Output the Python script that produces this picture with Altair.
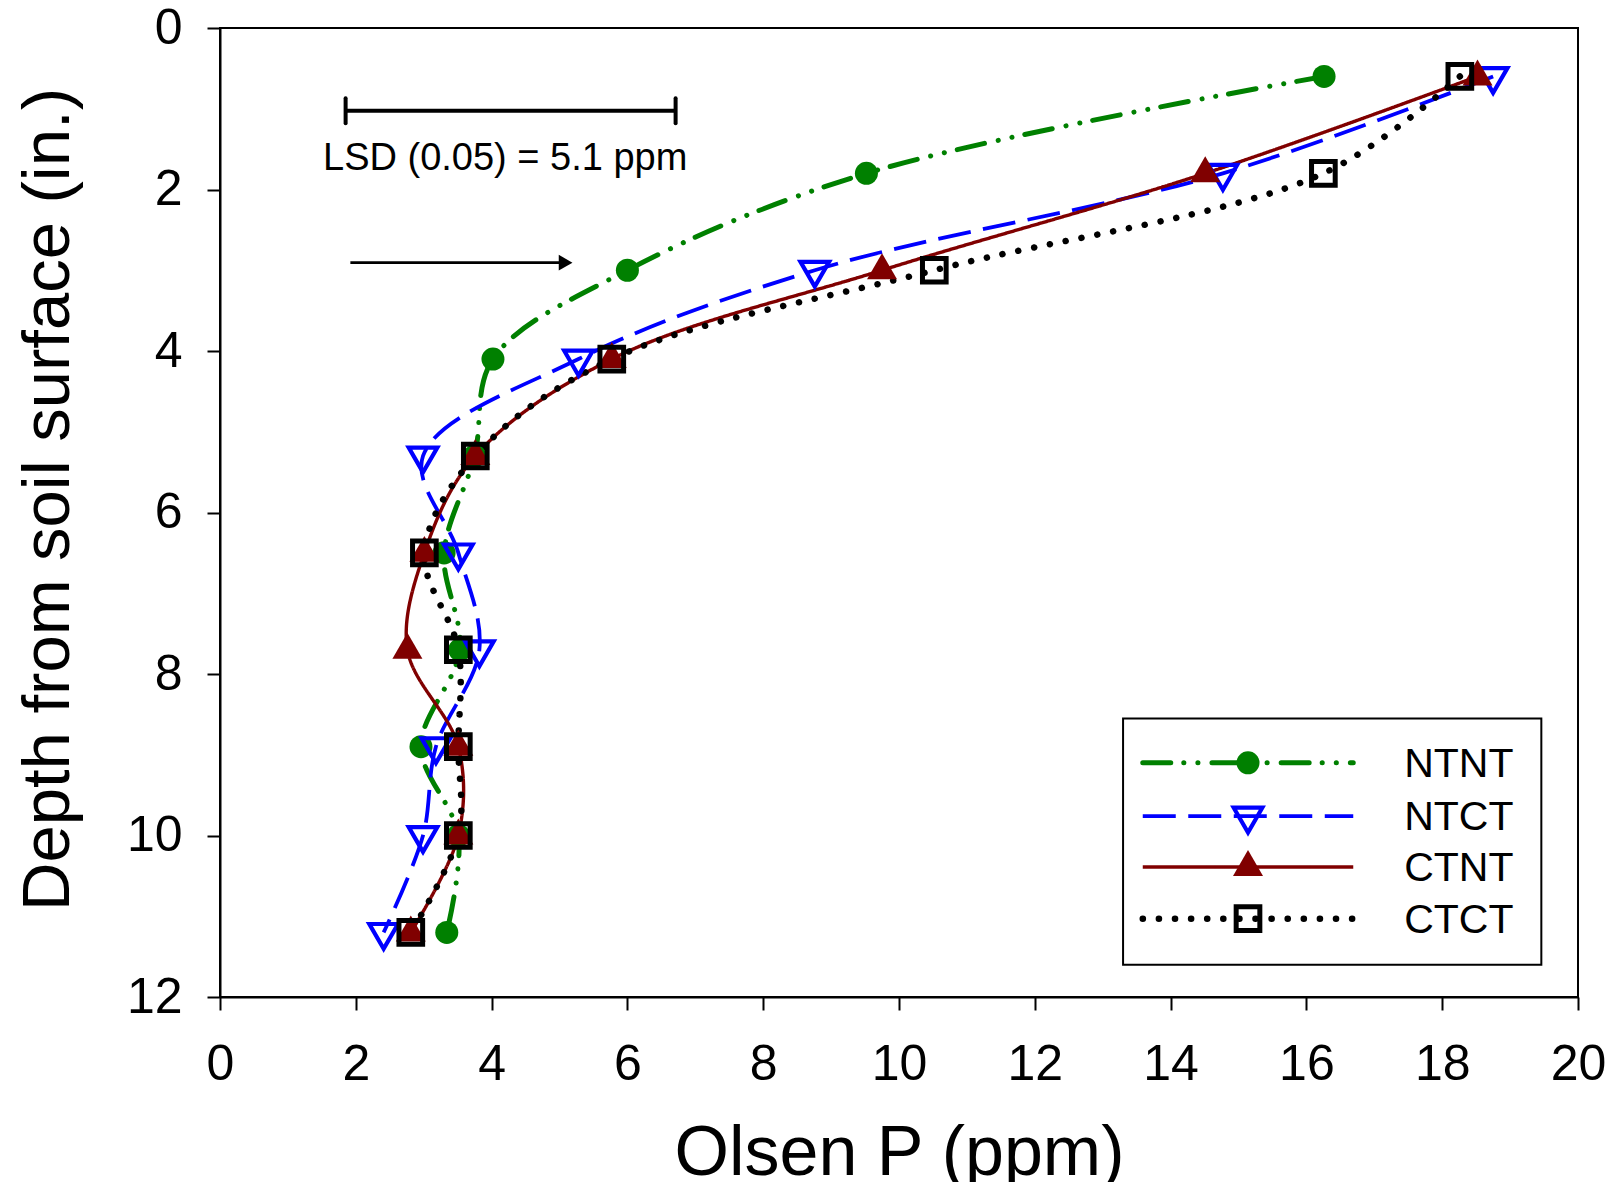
import altair as alt
import pandas as pd

# ---------------- data ----------------
depth = [0.6, 1.8, 3.0, 4.1, 5.3, 6.5, 7.7, 8.9, 10.0, 11.2]
ntnt = [16.26, 9.52, 6.00, 4.02, 3.75, 3.30, 3.53, 2.96, 3.51, 3.34]
ntct = [18.75, 14.77, 8.76, 5.28, 2.99, 3.51, 3.82, 3.18, 2.99, 2.41]
ctnt = [18.52, 14.51, 9.75, 5.77, 3.76, 3.01, 2.76, 3.51, 3.51, 2.81]
ctct = [18.26, 16.25, 10.52, 5.77, 3.76, 3.01, 3.51, 3.51, 3.51, 2.81]
series_names = ["NTNT", "NTCT", "CTNT", "CTCT"]
series_values = [ntnt, ntct, ctnt, ctct]

x_ticks = list(range(0, 21, 2))
y_ticks = list(range(0, 13, 2))

lsd_label = "LSD (0.05) = 5.1 ppm"
lsd_ends = [1.85, 6.71]
lsd_depth = 1.024
lsd_cap = 0.155
lsd_text_pos = (4.20, 1.60)
arrow_ends = [1.92, 5.0]
arrow_depth = 2.906
arrow_head = 5.09

legend_box = (13.30, 19.46, 8.55, 11.60)
legend_rows = [9.10, 9.76, 10.39, 11.03]
legend_line = (13.59, 16.69)
legend_marker = 15.14
legend_text = 17.44

FONT = "Liberation Sans"

styles = {
    "NTNT": dict(color="#008000", width=5, dash=[28, 13, 0.1, 14, 0.1, 14], cap="round",
                 shape="circle", filled=True, size=530, sw=1, yoff=0),
    "NTCT": dict(color="#0000FF", width=3.8, dash=[33, 12.5], cap="butt",
                 shape="triangle-down", filled=False, size=820, sw=4.2, yoff=4),
    "CTNT": dict(color="#800000", width=3.4, dash=[1, 0], cap="butt",
                 shape="triangle-up", filled=True, size=900, sw=1, yoff=-4),
    "CTCT": dict(color="#000000", width=6.5, dash=[0.1, 16], cap="round",
                 shape="square", filled=False, size=560, sw=5, yoff=0),
}

rows = []
for name, vals in zip(series_names, series_values):
    for d, v in zip(depth, vals):
        rows.append({"series": name, "depth": d, "p": v})
df = pd.DataFrame(rows)

xscale = alt.Scale(domain=[0, 20], nice=False, zero=False)
yscale = alt.Scale(domain=[0, 12], nice=False, zero=False, reverse=True)
xaxis = alt.Axis(values=x_ticks, title="Olsen P (ppm)", labelFlush=False, labelOverlap=False,
                 labelPadding=29, titleY=156, titleBaseline="middle", titleFontSize=70)
yaxis = alt.Axis(values=y_ticks, title="Depth from soil surface (in.)", labelOverlap=False,
                 labelPadding=25, titleX=-172, titleY=471, titleBaseline="middle", titleAngle=-90,
                 titleFontSize=67)


def X(field):
    return alt.X(field, type="quantitative", scale=xscale, axis=xaxis)


def Y(field):
    return alt.Y(field, type="quantitative", scale=yscale, axis=yaxis)


layers = []
for name in series_names:
    s = styles[name]
    sub = df[df.series == name]
    line = alt.Chart(sub).mark_line(
        color=s["color"], strokeWidth=s["width"], strokeDash=s["dash"], strokeCap=s["cap"],
        interpolate="catmull-rom"
    ).encode(x=X("p"), y=Y("depth"), order=alt.Order("depth:Q"))
    layers.append(line)
for name in series_names:
    s = styles[name]
    sub = df[df.series == name]
    pts = alt.Chart(sub).mark_point(
        shape=s["shape"], filled=s["filled"], size=s["size"], strokeWidth=s["sw"],
        color=s["color"], opacity=1, yOffset=s["yoff"]
    ).encode(x=X("p"), y=Y("depth"))
    layers.append(pts)

# LSD bar
lsd_df = pd.DataFrame({"p": [lsd_ends[0]], "p2": [lsd_ends[1]], "depth": [lsd_depth]})
layers.append(alt.Chart(lsd_df).mark_rule(color="black", strokeWidth=4).encode(
    x=X("p"), x2="p2", y=Y("depth")))
caps_df = pd.DataFrame({"p": lsd_ends, "depth": [lsd_depth - lsd_cap] * 2,
                        "depth2": [lsd_depth + lsd_cap] * 2})
layers.append(alt.Chart(caps_df).mark_rule(color="black", strokeWidth=4, strokeCap="round").encode(
    x=X("p"), y=Y("depth"), y2="depth2"))
lsd_t = pd.DataFrame({"p": [lsd_text_pos[0]], "depth": [lsd_text_pos[1]], "t": [lsd_label]})
layers.append(alt.Chart(lsd_t).mark_text(font=FONT, fontSize=38, color="black", align="center",
                                         baseline="middle", dy=2).encode(
    x=X("p"), y=Y("depth"), text="t:N"))

# arrow
arr_df = pd.DataFrame({"p": [arrow_ends[0]], "p2": [arrow_ends[1]], "depth": [arrow_depth]})
layers.append(alt.Chart(arr_df).mark_rule(color="black", strokeWidth=2.6).encode(
    x=X("p"), x2="p2", y=Y("depth")))
head_df = pd.DataFrame({"p": [arrow_head], "depth": [arrow_depth]})
layers.append(alt.Chart(head_df).mark_point(shape="triangle-right", filled=True, size=250,
                                            color="black", opacity=1).encode(
    x=X("p"), y=Y("depth")))

# legend
box_df = pd.DataFrame({"p": [legend_box[0]], "p2": [legend_box[1]],
                       "depth": [legend_box[2]], "depth2": [legend_box[3]]})
layers.append(alt.Chart(box_df).mark_rect(fill="white", stroke="black", strokeWidth=2).encode(
    x=X("p"), x2="p2", y=Y("depth"), y2="depth2"))
for name, rd in zip(series_names, legend_rows):
    s = styles[name]
    ldf = pd.DataFrame({"p": [legend_line[0]], "p2": [legend_line[1]], "depth": [rd]})
    layers.append(alt.Chart(ldf).mark_rule(color=s["color"], strokeWidth=s["width"],
                                           strokeDash=s["dash"], strokeCap=s["cap"]).encode(
        x=X("p"), x2="p2", y=Y("depth")))
    mdf = pd.DataFrame({"p": [legend_marker], "depth": [rd]})
    layers.append(alt.Chart(mdf).mark_point(shape=s["shape"], filled=s["filled"], size=s["size"],
                                            strokeWidth=s["sw"], color=s["color"], opacity=1,
                                            yOffset=s["yoff"]).encode(
        x=X("p"), y=Y("depth")))
    tdf = pd.DataFrame({"p": [legend_text], "depth": [rd], "t": [name]})
    layers.append(alt.Chart(tdf).mark_text(font=FONT, fontSize=41, color="black", align="left",
                                           baseline="middle", dy=2).encode(
        x=X("p"), y=Y("depth"), text="t:N"))

chart = alt.layer(*layers).properties(
    width=1358, height=969,
    autosize=alt.AutoSizeParams(type="none"),
    padding={"left": 212, "top": 20, "right": 31, "bottom": 185},
).configure_view(
    stroke="black", strokeWidth=2
).configure_axis(
    domainColor="black", domainWidth=2, tickColor="black", tickWidth=2, tickSize=13,
    labelFont=FONT, labelFontSize=50, labelColor="black",
    titleFont=FONT, titleFontWeight="normal", titleColor="black",
    grid=False
)

chart.save("out.html", embed_options={"renderer": "svg", "actions": False})
